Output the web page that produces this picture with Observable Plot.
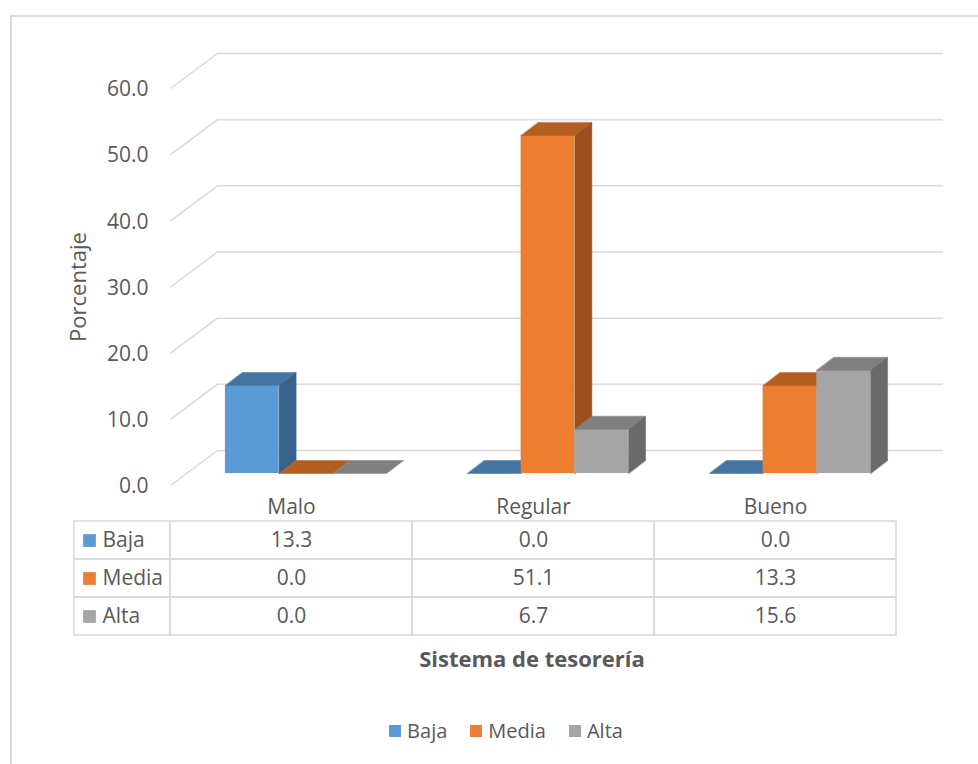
<!DOCTYPE html>
<html><head><meta charset="utf-8">
<script src="https://cdn.jsdelivr.net/npm/d3@7"></script>
<script src="https://cdn.jsdelivr.net/npm/@observablehq/plot@0.6"></script>
<style>
body{margin:0;background:#fff;font-family:"Open Sans",sans-serif;color:#595959;}
#wrap{position:relative;width:978px;height:764px;overflow:hidden;background:#fff;}
#frame{position:absolute;left:10px;top:15px;width:1000px;height:800px;border-left:2px solid #D9D9D9;border-top:2px solid #D9D9D9;}
.layer{position:absolute;left:0;top:0;}
#xtitle{position:absolute;left:0;width:1064px;top:643px;text-align:center;font-weight:bold;font-size:22px;color:#595959;}
#legend{position:absolute;left:0;width:1012px;top:717px;display:flex;justify-content:center;gap:23px;font-size:20px;color:#595959;}
#legend span.item{display:flex;align-items:center;gap:6px;}
#legend i{display:inline-block;width:12px;height:12px;}
</style></head>
<body>
<div id="wrap">
  <div id="frame"></div>
  <div id="chart" class="layer"></div>
  <div id="table" class="layer"></div>
  <div id="xtitle">Sistema de tesorería</div>
  <div id="legend"></div>
</div>
<script>
// ---- data ----
const categories = ["Malo", "Regular", "Bueno"];
const series = ["Baja", "Media", "Alta"];
const baja = [13.3, 0.0, 0.0];
const media = [0.0, 51.1, 13.3];
const alta = [0.0, 6.7, 15.6];
const yTicks = [0, 10, 20, 30, 40, 50, 60];

// ---- styles ----
const frontColors = ["#5B9BD5", "#ED7D31", "#A5A5A5"];
const topColors = ["#44749F", "#B45F22", "#808080"];
const sideColors = ["#37628A", "#9A4F1E", "#6A6A6A"];
const gridColor = "#D9D9D9";
const textColor = "#595959";
const FS = 21;

// ---- geometry ----
const W = 978, H = 764;
const xRange = [170, 896], yRange = [485, 88];
const pxX = (xRange[1] - xRange[0]) / 3;
const pxY = (yRange[0] - yRange[1]) / 60;
const wall = [47, -35];          // depth of floor (px)
const barShift = [14.5, -12];    // bar front plane offset (px)
const barDepth = [17, -13];      // bar depth (px)
const pad = 0.167, barW = 0.222;

const valuesBySeries = [baja, media, alta];
const records = [];
series.forEach((s, k) => categories.forEach((c, i) => {
  const x1 = i + pad + k * barW;
  records.push({series: s, k, cat: c, i, value: valuesBySeries[k][i], x1, x2: x1 + barW, id: s + c});
}));

const ddx = barDepth[0] / pxX, ddy = -barDepth[1] / pxY;
function topPts(r) {
  return [[r.x1, r.value], [r.x2, r.value], [r.x2 + ddx, r.value + ddy], [r.x1 + ddx, r.value + ddy]]
    .map(([x, y]) => ({x, y, id: r.id}));
}
function sidePts(r) {
  return [[r.x2, 0], [r.x2, r.value], [r.x2 + ddx, r.value + ddy], [r.x2 + ddx, ddy]]
    .map(([x, y]) => ({x, y, id: r.id}));
}

const barMarks = [];
series.forEach((s, k) => {
  const recs = records.filter(r => r.k === k);
  barMarks.push(
    Plot.rect(recs, {x1: "x1", x2: "x2", y1: 0, y2: "value", fill: frontColors[k], dx: barShift[0], dy: barShift[1]}),
    Plot.line(recs.flatMap(topPts), {x: "x", y: "y", z: "id", fill: topColors[k], stroke: topColors[k], strokeWidth: 0.5, curve: "linear-closed", dx: barShift[0], dy: barShift[1]}),
    Plot.line(recs.filter(r => r.value > 0).flatMap(sidePts), {x: "x", y: "y", z: "id", fill: sideColors[k], stroke: sideColors[k], strokeWidth: 0.5, curve: "linear-closed", dx: barShift[0], dy: barShift[1]})
  );
});

const chart = Plot.plot({
  width: W, height: H,
  marginTop: 0, marginRight: 0, marginBottom: 0, marginLeft: 0,
  style: {background: "transparent", fontFamily: "Open Sans", fontSize: FS + "px", color: textColor},
  x: {domain: [0, 3], range: xRange, axis: null},
  y: {domain: [0, 60], range: yRange, axis: null},
  marks: [
    Plot.ruleY(yTicks, {y: d => d, x1: 0, x2: 3, dx: wall[0], dy: wall[1], stroke: gridColor, strokeWidth: 1.5}),
    Plot.link(yTicks, {x1: 0, y1: d => d, x2: wall[0] / pxX, y2: d => d - wall[1] / pxY, stroke: gridColor, strokeWidth: 1.5}),
    Plot.text(yTicks, {x: 0, y: d => d, text: d => d.toFixed(1), textAnchor: "end", dx: -22, dy: 1, fill: textColor, fontSize: FS}),
    Plot.text(["Porcentaje"], {x: 0, y: 30, text: d => d, rotate: -90, dx: -92, fill: textColor, fontSize: FS + 1}),
    ...barMarks
  ]
});
document.getElementById("chart").appendChild(chart);

// ---- data table ----
const labelW = 96 / pxX;
const rows = ["head", ...series];
const table = Plot.plot({
  width: W, height: H,
  marginTop: 0, marginRight: 0, marginBottom: 0, marginLeft: 0,
  style: {background: "transparent", fontFamily: "Open Sans", fontSize: FS + "px", color: textColor},
  x: {domain: [0, 3], range: xRange, axis: null},
  y: {type: "band", domain: rows, range: [483, 635], padding: 0, axis: null},
  color: {domain: series, range: frontColors},
  marks: [
    Plot.ruleX([0, 1, 2, 3], {x: d => d, y: () => "head", stroke: gridColor, strokeWidth: 1.5}),
    Plot.rect(records, {x1: d => d.i, x2: d => d.i + 1, y: "series", fill: "none", stroke: gridColor, strokeWidth: 1.5}),
    Plot.rect(series, {x1: -labelW, x2: 0, y: d => d, fill: "none", stroke: gridColor, strokeWidth: 1.5}),
    Plot.text(categories, {x: (d, i) => i + 0.5, y: () => "head", text: d => d, dy: 5, fill: textColor, fontSize: FS}),
    Plot.text(records, {x: d => d.i + 0.5, y: "series", text: d => d.value.toFixed(1), fill: textColor, fontSize: FS}),
    Plot.dot(series, {x: 0, y: d => d, dx: -81, symbol: "square", r: 7.2, fill: d => d}),
    Plot.text(series, {x: 0, y: d => d, dx: -68, text: d => d, textAnchor: "start", fill: textColor, fontSize: FS})
  ]
});
document.getElementById("table").appendChild(table);

// ---- legend ----
const legend = document.getElementById("legend");
series.forEach((s, k) => {
  const it = document.createElement("span");
  it.className = "item";
  const sw = document.createElement("i");
  sw.style.background = frontColors[k];
  it.appendChild(sw);
  it.appendChild(document.createTextNode(s));
  legend.appendChild(it);
});
</script>
</body></html>
